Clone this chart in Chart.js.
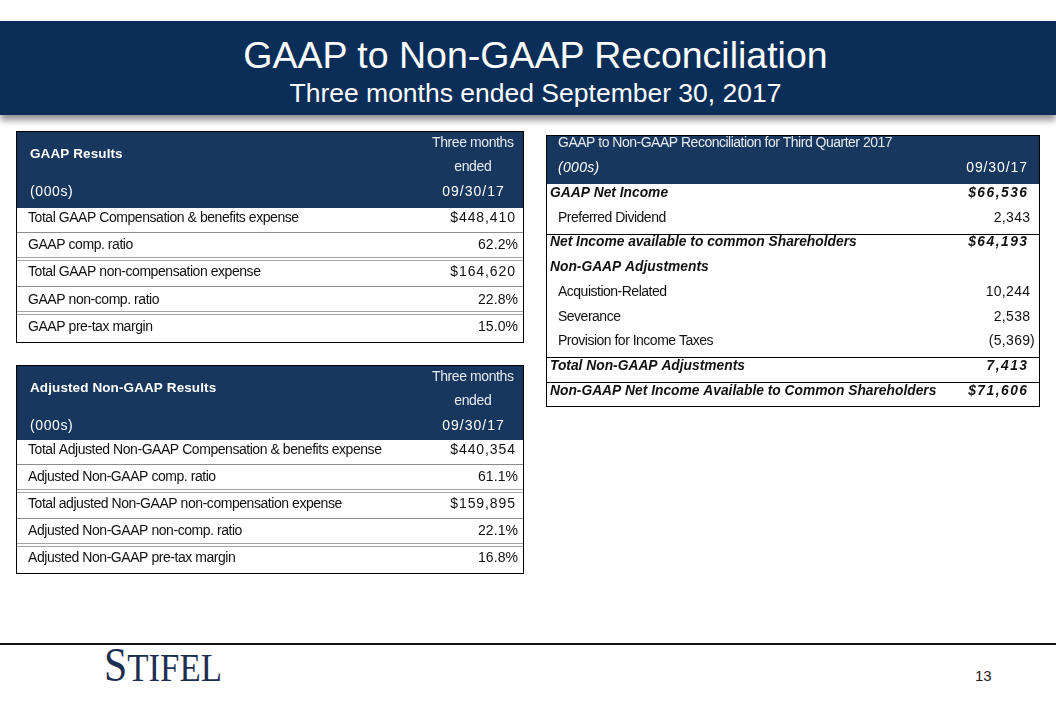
<!DOCTYPE html>
<html><head><meta charset="utf-8">
<script src="https://cdn.jsdelivr.net/npm/chart.js@4.4.0/dist/chart.umd.min.js"></script>
<style>
html,body{margin:0;padding:0;background:#fff;}
body{width:1056px;height:704px;position:relative;overflow:hidden;font-family:"Liberation Sans",Arial,sans-serif;}
#banner{position:absolute;left:0;top:21px;width:1056px;height:94px;background:#0b2e59;box-shadow:0 5px 7px rgba(0,0,0,0.45);}
.t{position:absolute;left:0;width:1071px;text-align:center;color:#fff;white-space:nowrap;}
#title{top:15px;font-size:37.5px;line-height:38px;}
#sub{top:59px;font-size:26.5px;line-height:27px;}
canvas{position:absolute;}
#footline{position:absolute;left:0;top:643px;width:1056px;height:2px;background:#111;}
#logo{position:absolute;left:104px;top:640px;font-family:"Liberation Serif","Times New Roman",serif;color:#1c2f52;white-space:nowrap;transform:scaleX(0.87);transform-origin:left top;line-height:50px;}
#logo .b{font-size:48px;}
#logo .s{font-size:40px;}
#page{position:absolute;left:975px;top:667px;font-size:15px;color:#222;font-family:"Liberation Sans Narrow","Liberation Sans",sans-serif;}
</style></head>
<body>
<div id="banner">
  <div class="t" id="title">GAAP to Non-GAAP Reconciliation</div>
  <div class="t" id="sub">Three months ended September 30, 2017</div>
</div>
<canvas id="c1" width="508" height="212" style="left:16px;top:131px"></canvas>
<canvas id="c2" width="508" height="209" style="left:16px;top:365px"></canvas>
<canvas id="c3" width="494" height="272" style="left:546px;top:135px"></canvas>
<div id="footline"></div>
<div id="logo"><span class="b">S</span><span class="s">TIFEL</span></div>
<div id="page">13</div>
<script>
// ---------- DATA ----------
const periodHeader = ['Three months', 'ended', '09/30/17'];
const unitsLabel = '(000s)';

const gaapTitle = 'GAAP Results';
const gaapRows = [
  'Total GAAP Compensation & benefits expense',
  'GAAP comp. ratio',
  'Total GAAP non-compensation expense',
  'GAAP non-comp. ratio',
  'GAAP pre-tax margin'
];
const gaapValues = [448410, 62.2, 164620, 22.8, 15.0];
const gaapFormats = ['usd', 'pct', 'usd', 'pct', 'pct'];

const adjTitle = 'Adjusted Non-GAAP Results';
const adjRows = [
  'Total Adjusted Non-GAAP Compensation & benefits expense',
  'Adjusted Non-GAAP comp. ratio',
  'Total adjusted Non-GAAP non-compensation expense',
  'Adjusted Non-GAAP non-comp. ratio',
  'Adjusted Non-GAAP pre-tax margin'
];
const adjValues = [440354, 61.1, 159895, 22.1, 16.8];
const adjFormats = ['usd', 'pct', 'usd', 'pct', 'pct'];

const reconTitle = 'GAAP to Non-GAAP Reconciliation for Third Quarter 2017';
const reconPeriod = '09/30/17';
const reconRows = [
  'GAAP Net Income',
  'Preferred Dividend',
  'Net Income available to common Shareholders',
  'Non-GAAP Adjustments',
  'Acquistion-Related',
  'Severance',
  'Provision for Income Taxes',
  'Total Non-GAAP Adjustments',
  'Non-GAAP Net Income Available to Common Shareholders'
];
const reconValues = [66536, 2343, 64193, null, 10244, 2538, -5369, 7413, 71606];
const reconFormats = ['usd', 'num', 'usd', null, 'num', 'num', 'num', 'num', 'usd'];

// ---------- DRAWING ----------
const HEAD = '#17375e';
const FONT = '"Liberation Sans", Arial, sans-serif';

function fmt(v, f) {
  if (v === null || v === undefined) return '';
  if (f === 'pct') return v.toFixed(1) + '%';
  const s = Math.abs(v).toLocaleString('en-US');
  if (f === 'usd') return '$' + s;
  return v < 0 ? '(' + s : s;
}

function txt(ctx, s, x, y, font, color, align, ls) {
  ls = ls || 0;
  ctx.font = font; ctx.fillStyle = color; ctx.textAlign = align; ctx.textBaseline = 'middle';
  ctx.letterSpacing = ls + 'px';
  let xx = x;
  if (align === 'right') xx = x + ls;
  else if (align === 'center') xx = x + ls / 2;
  ctx.fillText(s, xx, y);
  ctx.letterSpacing = '0px';
}

function hline(ctx, y, x0, x1, color) {
  ctx.strokeStyle = color; ctx.lineWidth = 1;
  ctx.beginPath(); ctx.moveTo(x0, Math.round(y) + 0.5); ctx.lineTo(x1, Math.round(y) + 0.5); ctx.stroke();
}

function resultsPlugin(title, values, formats) {
  return {
    id: 'resultsTable',
    afterDraw(chart) {
      const ctx = chart.ctx, ys = chart.scales.y, W = chart.width, H = chart.height;
      const labels = chart.data.labels;
      ctx.save();
      const y0 = ys.getPixelForValue(0);
      const hb = y0 - 10;
      ctx.fillStyle = HEAD; ctx.fillRect(0, 0, W, hb);
      const cx = W - 51;
      txt(ctx, title, 14, 23.5, 'bold 13.5px ' + FONT, '#fff', 'left', 0.1);
      txt(ctx, periodHeader[0], cx, 12, '14px ' + FONT, '#e6e9ee', 'center', -0.4);
      txt(ctx, periodHeader[1], cx, 36.5, '14px ' + FONT, '#e6e9ee', 'center', -0.4);
      txt(ctx, unitsLabel, 14, 61, '14px ' + FONT, '#fff', 'left', 0.6);
      txt(ctx, periodHeader[2], cx, 61, '14px ' + FONT, '#fff', 'center', 1);
      // separators
      for (let i = 0; i < labels.length - 1; i++) {
        const m = (ys.getPixelForValue(i) + ys.getPixelForValue(i + 1)) / 2;
        if (i === 1 || i === 3) {
          hline(ctx, m - 2, 0, W, '#a6a6a6');
          hline(ctx, m + 1, 0, W, '#a6a6a6');
        } else {
          hline(ctx, m, 0, W, '#8c8c8c');
        }
      }
      labels.forEach((lab, i) => {
        const y = ys.getPixelForValue(i);
        txt(ctx, lab, 12, y, '14px ' + FONT, '#111', 'left', -0.45);
        const f = formats[i];
        txt(ctx, fmt(values[i], f), f === 'pct' ? W - 6 : W - 9, y, '14px ' + FONT, '#111', 'right', f === 'pct' ? 0.1 : 0.9);
      });
      ctx.strokeStyle = '#000'; ctx.lineWidth = 1;
      ctx.strokeRect(0.5, 0.5, W - 1, H - 1);
      ctx.restore();
    }
  };
}

function reconPlugin() {
  const strong = [0, 2, 3, 7, 8];
  const rules = [1, 6, 7];
  return {
    id: 'reconTable',
    afterDraw(chart) {
      const ctx = chart.ctx, ys = chart.scales.y, W = chart.width, H = chart.height;
      const labels = chart.data.labels;
      ctx.save();
      ctx.fillStyle = HEAD; ctx.fillRect(0, 0, W, 49);
      txt(ctx, reconTitle, 12, 8.5, '14px ' + FONT, '#e6e9ee', 'left', -0.5);
      txt(ctx, unitsLabel, 12, 33, 'italic 14px ' + FONT, '#fff', 'left', 0.3);
      txt(ctx, reconPeriod, W - 13, 33, '14px ' + FONT, '#fff', 'right', 0.9);
      rules.forEach(i => {
        const m = (ys.getPixelForValue(i) + ys.getPixelForValue(i + 1)) / 2 + 3.5;
        hline(ctx, m, 0, W, '#000');
      });
      labels.forEach((lab, i) => {
        const y = ys.getPixelForValue(i);
        const b = strong.includes(i);
        const font = (b ? 'italic bold 13.8px ' : '14px ') + FONT;
        txt(ctx, lab, b ? 4 : 12, y, font, '#111', 'left', b ? 0 : -0.5);
        const v = reconValues[i];
        if (v === null) return;
        const s = fmt(v, reconFormats[i]);
        if (b) {
          txt(ctx, s, W - 13, y, font, '#111', 'right', 1.5);
        } else {
          txt(ctx, s, W - 10, y, font, '#111', 'right', 0.3);
          if (v < 0) txt(ctx, ')', W - 10, y, font, '#111', 'left', 0);
        }
      });
      ctx.strokeStyle = '#000'; ctx.lineWidth = 1;
      ctx.strokeRect(0.5, 0.5, W - 1, H - 1);
      ctx.restore();
    }
  };
}

function makeTable(id, rows, plugin, padTop, padBottom) {
  return new Chart(document.getElementById(id), {
    type: 'bar',
    data: { labels: rows, datasets: [] },
    options: {
      indexAxis: 'y',
      responsive: false,
      animation: false,
      events: [],
      layout: { padding: { top: padTop, bottom: padBottom, left: 0, right: 0 } },
      plugins: { legend: { display: false }, tooltip: { enabled: false } },
      scales: {
        y: { type: 'category', display: false, offset: false },
        x: { type: 'linear', display: false }
      }
    },
    plugins: [plugin]
  });
}

makeTable('c1', gaapRows, resultsPlugin(gaapTitle, gaapValues, gaapFormats), 87, 16);
makeTable('c2', adjRows, resultsPlugin(adjTitle, adjValues, adjFormats), 85, 16);
makeTable('c3', reconRows, reconPlugin(), 58, 16);
</script>
</body></html>
